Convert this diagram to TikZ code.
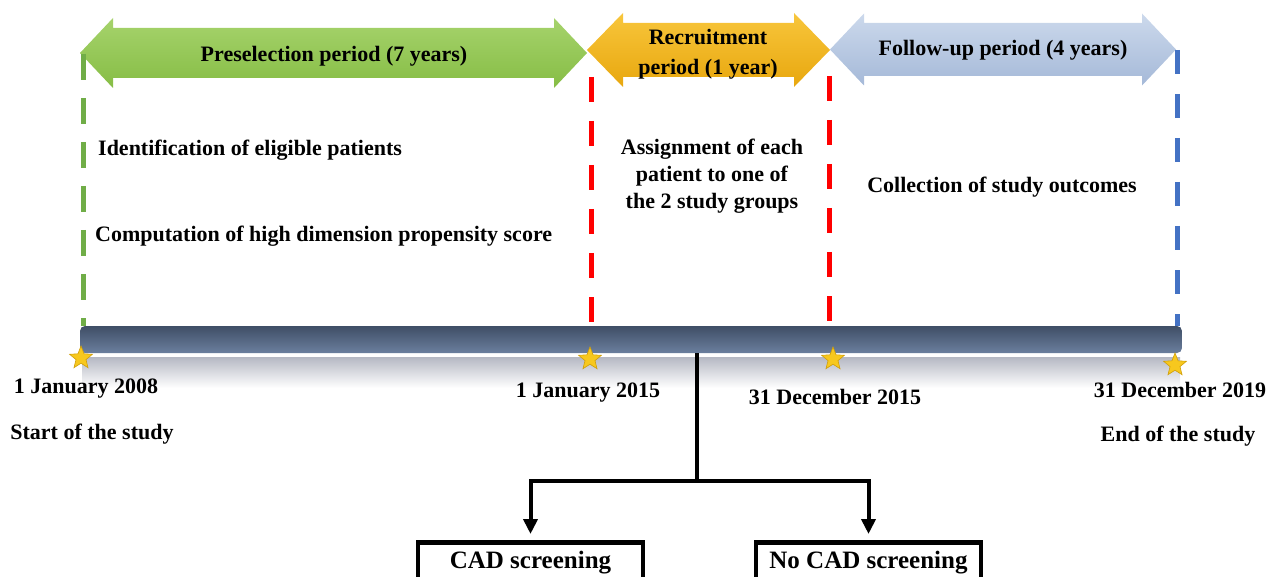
\documentclass[tikz,border=0pt]{standalone}
\usepackage{fontspec}
\setmainfont{Liberation Serif}
\usetikzlibrary{shapes.geometric,arrows.meta}
\definecolor{greenA}{HTML}{A6D36C}
\definecolor{greenB}{HTML}{86BD45}
\definecolor{orangeA}{HTML}{F8C63C}
\definecolor{orangeB}{HTML}{E8A70E}
\definecolor{blueA}{HTML}{CCD9EC}
\definecolor{blueB}{HTML}{A5B9D8}
\definecolor{barA}{HTML}{3F4E66}
\definecolor{barB}{HTML}{6B7F9E}
\definecolor{shadowA}{HTML}{B5B8C3}
\definecolor{dashgreen}{HTML}{70AD47}
\definecolor{dashred}{HTML}{FF0000}
\definecolor{dashblue}{HTML}{4472C4}
\definecolor{starfill}{HTML}{F7C81E}
\definecolor{stardraw}{HTML}{D09E08}
\newcommand\periodarrow[7]{%
  \shade[#7] (#1,#3) -- (#1+#4,#3-#5) -- (#1+#4,#3-#6) -- (#2-#4,#3-#6) -- (#2-#4,#3-#5) -- (#2,#3)
    -- (#2-#4,#3+#5) -- (#2-#4,#3+#6) -- (#1+#4,#3+#6) -- (#1+#4,#3+#5) -- cycle;}
\begin{document}
\begin{tikzpicture}[x=1pt,y=-1pt,
  txt/.style={font=\fontsize{22}{27}\selectfont\bfseries, inner sep=0pt, text=black},
  greenarrow/.style={top color=greenA, bottom color=greenB},
  orangearrow/.style={top color=orangeA, bottom color=orangeB},
  bluearrow/.style={top color=blueA, bottom color=blueB},
  vdash/.style={line width=5pt, dash pattern=on 26pt off 18pt},
  starnode/.style={star, star points=5, star point ratio=2.3, minimum size=24pt, inner sep=0pt, fill=starfill, draw=stardraw, line width=0.6pt},
  conn/.style={line width=4pt, draw=black},
  tip/.style={-{Triangle[length=15pt,width=14pt]}, shorten >=6pt},
  box/.style={draw=black, line width=4.5pt, minimum width=225pt, minimum height=40pt, anchor=north, inner sep=0pt, font=\fontsize{25}{30}\selectfont\bfseries}
]
\useasboundingbox (0,0) rectangle (1268,577);
\clip (0,0) rectangle (1268,577);

% period arrows
\periodarrow{80}{587}{53}{33}{35}{25}{greenarrow}
\periodarrow{587}{830}{50}{36}{37}{27}{orangearrow}
\periodarrow{830}{1176}{49.5}{34}{36}{26.5}{bluearrow}

\node[txt] (pre) at (334,56) {Preselection period (7 years)};
\node[txt, align=center, font=\fontsize{22}{30}\selectfont\bfseries] (rec) at (708,54) {Recruitment\\period (1 year)};
\node[txt] (fol) at (1003,50) {Follow-up period (4 years)};

% dashed separators
\draw[vdash, draw=dashgreen] (83,54) -- (83,326);
\draw[vdash, draw=dashred, dash pattern=on 25pt off 19pt] (591,77) -- (591,326);
\draw[vdash, draw=dashred, dash pattern=on 25pt off 19pt] (829,76) -- (829,326);
\draw[vdash, draw=dashblue, dash pattern=on 24pt off 20pt] (1177,50) -- (1177,326);

% descriptions
\node[txt, anchor=west] (ident) at (98,150) {Identification of eligible patients};
\node[txt, anchor=west] (comp) at (95,236) {Computation of high dimension propensity score};
\node[txt, align=center] (assign) at (712,176) {Assignment of each\\patient to one of\\the 2 study groups};
\node[txt] (coll) at (1002,187) {Collection of study outcomes};

% timeline bar
\shade[top color=shadowA, bottom color=white] (82,357) rectangle (1180,388);
\node[top color=barA, bottom color=barB, rounded corners=5pt, minimum width=1102pt, minimum height=27pt, inner sep=0pt] (bar) at (631,339.5) {};

% stars
\node[starnode] (s1) at (81,358) {};
\node[starnode] (s2) at (590,359) {};
\node[starnode] (s3) at (833,359) {};
\node[starnode] (s4) at (1175,365) {};

% dates
\node[txt] (d1) at (86,389) {1 January 2008};
\node[txt] (st) at (92,434) {Start of the study};
\node[txt] (d2) at (588,393) {1 January 2015};
\node[txt] (d3) at (835,397) {31 December 2015};
\node[txt] (d4) at (1180,390) {31 December 2019};
\node[txt] (en) at (1178,436) {End of the study};

% groups
\node[box] (cad) at (530.5,540) {CAD screening};
\node[box] (nocad) at (868.5,540) {No CAD screening};

\coordinate (split) at (697,353);
\coordinate (junction) at (697,481);
\draw[conn] (split) -- (junction);
\draw[conn, tip] (junction) -| (cad.north);
\draw[conn, tip] (junction) -| (nocad.north);
\end{tikzpicture}
\end{document}
